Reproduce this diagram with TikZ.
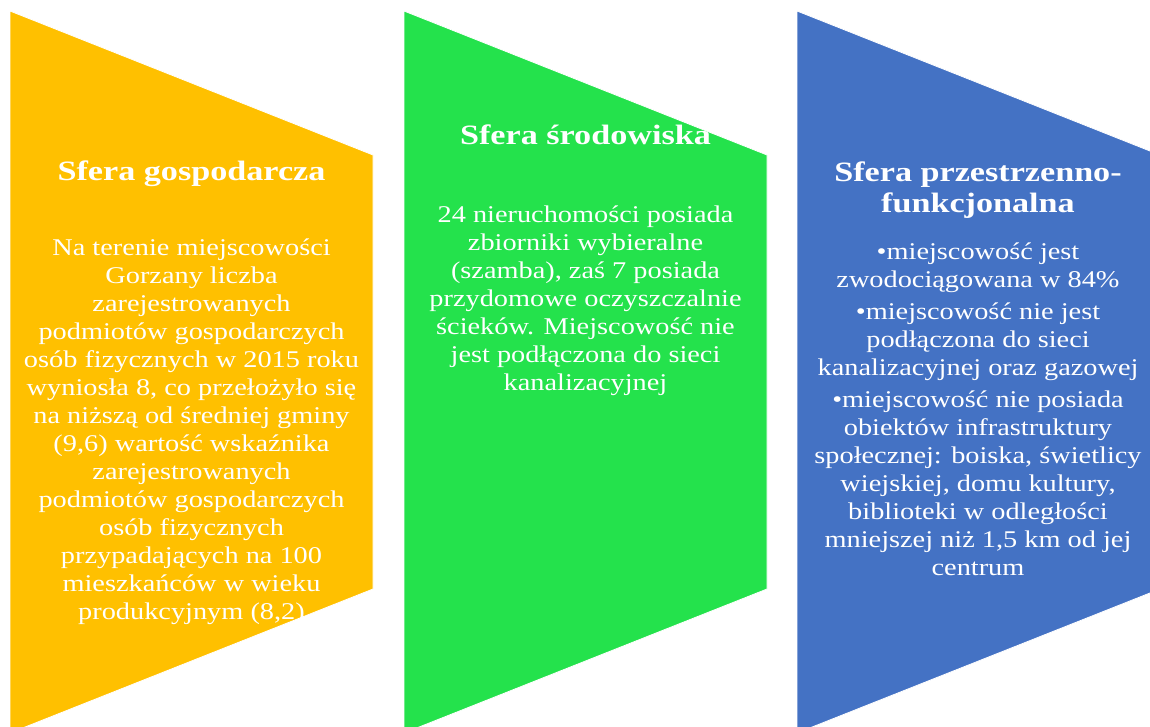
\documentclass[tikz,border=0pt]{standalone}
\usepackage{fontspec}
\setmainfont[FakeStretch=1.22]{Liberation Serif}
\newfontfamily\sferabody[FakeStretch=1.18]{Liberation Serif}
\definecolor{sferaYellow}{HTML}{FFC000}
\definecolor{sferaGreen}{HTML}{24E24C}
\definecolor{sferaBlue}{HTML}{4472C4}
\tikzstyle{sfera}=[draw=white, line width=0.8pt]
\tikzstyle{title}=[text=white, inner sep=0pt, align=center, anchor=base, font=\fontsize{28}{31}\selectfont\bfseries]
\tikzstyle{body}=[text=white, inner sep=0pt, align=center, anchor=base, font=\sferabody\fontsize{24}{28}\selectfont]

\begin{document}
\begin{tikzpicture}[x=1pt, y=-1pt]
  \useasboundingbox (0,0) rectangle (1150,727);
  \clip (0,0) rectangle (1150,727);
  % three spheres
  \path[sfera, fill=sferaYellow] (10,11) -- (373,155) -- (373,589) -- (10,733) -- cycle;
  \path[sfera, fill=sferaGreen] (404,11) -- (767,155) -- (767,589) -- (404,733) -- cycle;
  \path[sfera, fill=sferaBlue] (797,11) -- (1160,155) -- (1160,589) -- (797,733) -- cycle;
  % texts (base = last line)
  \node[title] (gosp) at (191.5,181) {Sfera gospodarcza};
  \node[body] (gospText) at (191.5,619) {Na terenie miejscowości\\ Gorzany liczba\\ zarejestrowanych\\ podmiotów gospodarczych\\ osób fizycznych w 2015 roku\\ wyniosła 8, co przełożyło się\\ na niższą od średniej gminy\\ (9,6) wartość wskaźnika\\ zarejestrowanych\\ podmiotów gospodarczych\\ osób fizycznych\\ przypadających na 100\\ mieszkańców w wieku\\ produkcyjnym (8,2)};
  \node[title] (srod) at (585.5,145) {Sfera środowiska};
  \node[body] (srodText) at (585.5,390) {24 nieruchomości posiada\\ zbiorniki wybieralne\\ (szamba), zaś 7 posiada\\ przydomowe oczyszczalnie\\ ścieków. Miejscowość nie\\ jest podłączona do sieci\\ kanalizacyjnej};
  \node[title] (przest) at (978,213) {Sfera przestrzenno-\\funkcjonalna};
  \node[body] (przestText) at (978,575) {•miejscowość jest\\ zwodociągowana w 84\%\\[4pt] •miejscowość nie jest\\ podłączona do sieci\\ kanalizacyjnej oraz gazowej\\[4pt] •miejscowość nie posiada\\ obiektów infrastruktury\\ społecznej: boiska, świetlicy\\ wiejskiej, domu kultury,\\ biblioteki w odległości\\ mniejszej niż 1,5 km od jej\\ centrum};
\end{tikzpicture}
\end{document}
